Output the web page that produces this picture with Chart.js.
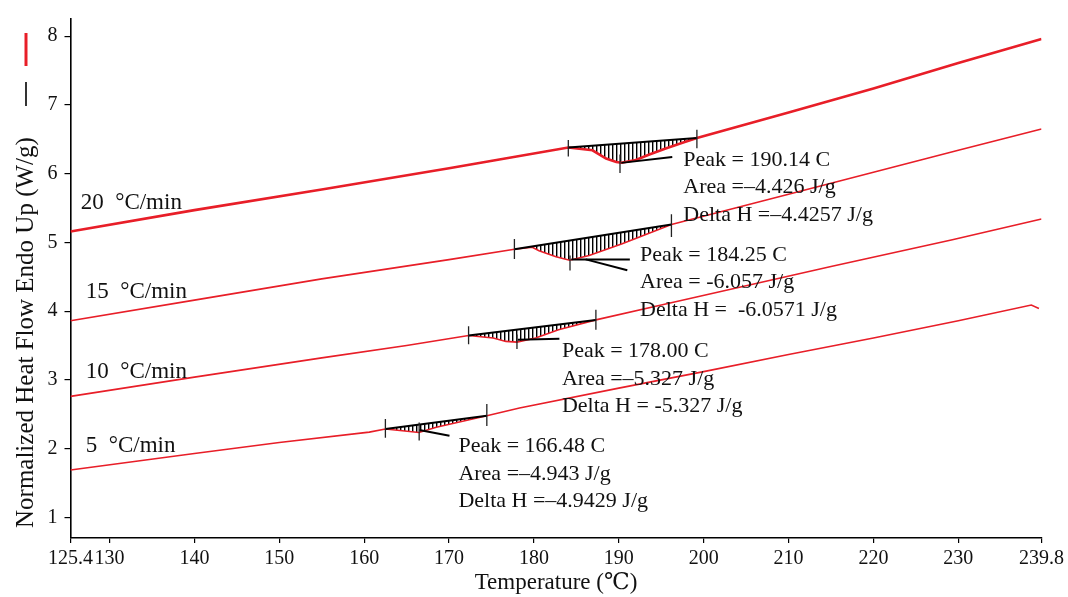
<!DOCTYPE html>
<html>
<head>
<meta charset="utf-8">
<script src="https://cdn.jsdelivr.net/npm/chart.js@4/dist/chart.umd.min.js"></script>
<style>
  body { margin: 0; background: #fff; }
  #wrap { width: 1068px; height: 597px; }
</style>
</head>
<body>
<div id="wrap"><canvas id="dscChart"></canvas></div>
<script>
// axis ticks
const tempTicks = [125.4, 130, 140, 150, 160, 170, 180, 190, 200, 210, 220, 230, 239.8];
const flowTicks = [1, 2, 3, 4, 5, 6, 7, 8];

// heating rates
const rateLabels = ['20  \u00B0C/min', '15  \u00B0C/min', '10  \u00B0C/min', '5  \u00B0C/min'];
const rateLabelT = [126.6, 127.2, 127.2, 127.2];
const rateLabelV = [5.58, 4.28, 3.11, 2.04];

// DSC curves (temperature C, heat flow W/g)
const t20 = [125.4, 140, 155, 170, 184.05, 186.9, 188.5, 189.7, 190.3, 192.0, 193.6, 195.6, 197.5, 199.2, 210, 220, 230, 239.8];
const v20 = [5.16, 5.47, 5.77, 6.08, 6.38, 6.34, 6.22, 6.17, 6.16, 6.20, 6.28, 6.37, 6.45, 6.52, 6.89, 7.24, 7.61, 7.96];
const t15 = [125.4, 140, 155, 170, 177.7, 179.8, 180.6, 182.6, 184.2, 186.5, 190.4, 196.2, 210, 220, 230, 239.8];
const v15 = [3.86, 4.16, 4.47, 4.75, 4.90, 4.93, 4.88, 4.79, 4.74, 4.81, 4.98, 5.26, 5.70, 6.02, 6.34, 6.65];
const t10 = [125.4, 140, 155, 165, 172.3, 175.2, 176.7, 178.0, 180.2, 182.9, 187.3, 195, 205, 215, 229.3, 239.8];
const v10 = [2.76, 3.04, 3.32, 3.50, 3.645, 3.61, 3.56, 3.55, 3.61, 3.73, 3.873, 4.09, 4.37, 4.65, 5.04, 5.34];
const t5 = [125.4, 140, 150, 160.6, 162.5, 164.5, 166.45, 168.5, 174.45, 178.3, 190, 200, 210, 220, 230, 238.6, 239.5];
const v5 = [1.69, 1.93, 2.09, 2.24, 2.286, 2.26, 2.235, 2.31, 2.478, 2.59, 2.88, 3.12, 3.37, 3.61, 3.86, 4.09, 4.04];

// integration baselines [start, end]
const baseT = [[184.05, 199.2], [177.7, 196.2], [172.3, 187.3], [162.5, 174.45]];
const baseV = [[6.38, 6.52], [4.90, 5.26], [3.645, 3.873], [2.286, 2.478]];

// vertical limit marks: start, peak, end
const markT = [[184.05, 190.14, 199.2], [177.7, 184.25, 196.2], [172.3, 178.0, 187.3], [162.5, 166.48, 174.45]];
const markLo = [[6.25, 6.01, 6.37], [4.76, 4.59, 5.08], [3.52, 3.45, 3.73], [2.16, 2.12, 2.33]];
const markHi = [[6.49, 6.28, 6.64], [5.05, 4.81, 5.41], [3.78, 3.66, 4.02], [2.43, 2.38, 2.65]];

// leader lines from peak to the text
const leadT = [[190.3, 196.3], [184.4, 191.3], [186.1, 191.0], [178.1, 183.0], [166.5, 170.05]];
const leadV = [[6.157, 6.243], [4.753, 4.753], [4.753, 4.594], [3.585, 3.60], [2.271, 2.189]];

// peak results
const noteT = [197.6, 192.5, 183.3, 171.1];
const noteV = [6.20, 4.82, 3.41, 2.03];
const noteText = [
  ['Peak = 190.14 C', 'Area =\u20134.426 J/g', 'Delta H =\u20134.4257 J/g'],
  ['Peak = 184.25 C', 'Area = -6.057 J/g', 'Delta H =  -6.0571 J/g'],
  ['Peak = 178.00 C', 'Area =\u20135.327 J/g', 'Delta H = -5.327 J/g'],
  ['Peak = 166.48 C', 'Area =\u20134.943 J/g', 'Delta H =\u20134.9429 J/g']
];

const curvesT = [t20, t15, t10, t5];
const curvesV = [v20, v15, v10, v5];
const curveWidth = [2.6, 1.6, 1.6, 1.6];

const RED = 'rgb(232,30,40)';
const SERIF = '"Liberation Serif", "DejaVu Serif", serif';

function pts(ts, vs) {
  return ts.map((t, i) => ({ x: t, y: vs[i] }));
}

// hatch pattern for the integrated peak area
const pc = document.createElement('canvas');
pc.width = 4; pc.height = 4;
const pg = pc.getContext('2d');
pg.fillStyle = '#000';
pg.fillRect(0, 0, 1.4, 4);
const hatch = pg.createPattern(pc, 'repeat');

const datasets = [];
curvesT.forEach((ts, i) => {
  datasets.push({
    label: rateLabels[i], data: pts(ts, curvesV[i]),
    borderColor: RED, borderWidth: curveWidth[i], order: 5
  });
  const baseIdx = datasets.length;
  datasets.push({
    label: 'baseline', data: pts(baseT[i], baseV[i]),
    borderColor: '#000', borderWidth: 2, order: 2
  });
  // part of the curve between the limits, filled to the baseline
  const seg = pts(ts, curvesV[i]).filter(p => p.x >= baseT[i][0] && p.x <= baseT[i][1]);
  datasets.push({
    label: 'area', data: seg, borderColor: 'rgba(0,0,0,0)', borderWidth: 0,
    backgroundColor: hatch, fill: { target: baseIdx }, order: 8
  });
  markT[i].forEach((t, k) => {
    datasets.push({
      label: 'mark', data: [{ x: t, y: markLo[i][k] }, { x: t, y: markHi[i][k] }],
      borderColor: '#222', borderWidth: 1.3, order: 1
    });
  });
});
leadT.forEach((ts, i) => {
  datasets.push({
    label: 'lead', data: pts(ts, leadV[i]),
    borderColor: '#000', borderWidth: 2, order: 1
  });
});

const textPlugin = {
  id: 'dscText',
  afterDraw(chart) {
    const ctx = chart.ctx;
    const xs = chart.scales.x, ys = chart.scales.y;
    ctx.save();
    ctx.fillStyle = '#111';
    ctx.textBaseline = 'middle';
    ctx.textAlign = 'left';
    ctx.font = '23px ' + SERIF;
    rateLabels.forEach((s, i) => {
      ctx.fillText(s, xs.getPixelForValue(rateLabelT[i]), ys.getPixelForValue(rateLabelV[i]));
    });
    ctx.font = '22px ' + SERIF;
    noteText.forEach((lines, i) => {
      const x = xs.getPixelForValue(noteT[i]);
      const y = ys.getPixelForValue(noteV[i]);
      lines.forEach((s, k) => ctx.fillText(s, x, y + k * 27.5));
    });
    // y axis title with legend dashes
    ctx.translate(26, 528);
    ctx.rotate(-Math.PI / 2);
    ctx.font = '25px ' + SERIF;
    ctx.fillText('Normalized Heat Flow Endo Up (W/g)', 0, 0);
    ctx.restore();
    ctx.save();
    ctx.lineWidth = 1.6;
    ctx.strokeStyle = '#000';
    ctx.beginPath(); ctx.moveTo(26, 106); ctx.lineTo(26, 82); ctx.stroke();
    ctx.lineWidth = 3;
    ctx.strokeStyle = RED;
    ctx.beginPath(); ctx.moveTo(26, 66); ctx.lineTo(26, 33); ctx.stroke();
    ctx.restore();
  }
};

new Chart(document.getElementById('dscChart'), {
  type: 'scatter',
  data: { datasets },
  options: {
    responsive: true,
    maintainAspectRatio: false,
    animation: false,
    showLine: true,
    elements: { point: { radius: 0, hoverRadius: 0 }, line: { tension: 0 } },
    layout: { autoPadding: false, padding: { top: 15, right: 25, left: 0, bottom: 0 } },
    plugins: { legend: { display: false }, tooltip: { enabled: false } },
    scales: {
      x: {
        type: 'linear', min: 125.4, max: 239.8,
        afterBuildTicks: s => { s.ticks = tempTicks.map(v => ({ value: v })); },
        afterFit: s => { s.height = 59; },
        grid: { drawOnChartArea: false, tickLength: 5, color: '#000', lineWidth: 1.2 },
        border: { color: '#000', width: 1.6 },
        ticks: { color: '#111', padding: 4, maxRotation: 0, font: { family: SERIF, size: 20 } },
        title: { display: true, text: 'Temperature (\u2103)', color: '#111', padding: { top: 0, bottom: 0 }, font: { family: SERIF, size: 23 } }
      },
      y: {
        type: 'linear', min: 0.7, max: 8.25,
        afterBuildTicks: s => { s.ticks = flowTicks.map(v => ({ value: v })); },
        afterFit: s => { s.width = 70.5; },
        grid: { drawOnChartArea: false, tickLength: 6, color: '#000', lineWidth: 1.2 },
        border: { color: '#000', width: 1.6 },
        ticks: { color: '#111', padding: 7, font: { family: SERIF, size: 20 } }
      }
    }
  },
  plugins: [textPlugin]
});
</script>
</body>
</html>
